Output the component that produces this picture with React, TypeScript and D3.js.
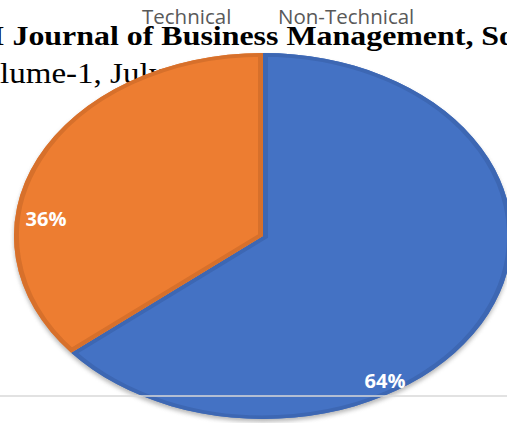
import React from "react";
import * as d3 from "d3";

const categories = ["Technical", "Non-Technical"];
const values = [64, 36];
const colors = ["#4472C4", "#ED7D31"];
const edgeColors = ["#3D67B3", "#D7702B"];
const labelText = ["64%", "36%"];
const bgLine1 = "I Journal of Business Management, Social";
const bgLine2 = "lume-1, July";

export default function App() {
  const W = 507, H = 423;
  const cx = 263, cy = 236, rx = 249, ry = 183;
  const pie = d3.pie<number>().sort(null).startAngle(0).endAngle(2 * Math.PI);
  const arcs = pie(values);
  const arcGen = d3.arc<d3.PieArcDatum<number>>().innerRadius(0).outerRadius(rx);
  const sy = ry / rx;
  // label placement: angle offset from slice mid-angle and radial fraction
  const labelOffset = [0.574, -0.328];
  const labelFrac = [0.927, 0.877];
  const labelPos = arcs.map((a, i) => {
    const mid = (a.startAngle + a.endAngle) / 2;
    const ang = mid + labelOffset[i];
    return [cx + Math.sin(ang) * rx * labelFrac[i], cy - Math.cos(ang) * ry * labelFrac[i]];
  });
  const stretch = 1.14;
  return (
    <svg width={W} height={H} style={{ position: "absolute", left: 0, top: 0 }}>
      <defs>
        {arcs.map((a, i) => (
          <clipPath id={"clip" + i} key={i}>
            <path d={arcGen(a) || ""} />
          </clipPath>
        ))}
        <filter id="blur" x="-20%" y="-20%" width="140%" height="140%">
          <feGaussianBlur stdDeviation="2" />
        </filter>
      </defs>
      <rect width={W} height={H} fill="#fff" />
      <g transform={`scale(${stretch},1)`}>
        <text x={-7} y={45} fontFamily="Liberation Serif" fontWeight="bold" fontSize={28} fill="#000">
          {bgLine1}
        </text>
        <text x={0} y={83} fontFamily="Liberation Serif" fontSize={29} fill="#000">
          {bgLine2}
        </text>
      </g>
      {categories.map((c, i) => (
        <text key={c} x={i === 0 ? 142 : 278} y={24} fontFamily="Open Sans" fontSize={20.5} fill="#595959">
          {c}
        </text>
      ))}
      <ellipse cx={cx} cy={cy + 3} rx={rx} ry={ry} fill="#888" filter="url(#blur)" opacity={0.6} />
      <g transform={`translate(${cx},${cy}) scale(1,${sy})`}>
        {arcs.map((a, i) => (
          <g key={i}>
            <path d={arcGen(a) || ""} fill={colors[i]} />
            <path
              d={arcGen(a) || ""}
              fill="none"
              stroke={edgeColors[i]}
              strokeWidth={10}
              clipPath={`url(#clip${i})`}
            />
          </g>
        ))}
      </g>
      {arcs.map((a, i) => (
        <text
          key={i}
          x={labelPos[i][0]}
          y={labelPos[i][1]}
          textAnchor="middle"
          dominantBaseline="central"
          fontFamily="Open Sans"
          fontWeight="bold"
          fontSize={20}
          fill="#fff"
        >
          {labelText[i]}
        </text>
      ))}
      <line x1={0} x2={W} y1={396} y2={396} stroke="#d9d9d9" strokeWidth={1.5} />
    </svg>
  );
}
